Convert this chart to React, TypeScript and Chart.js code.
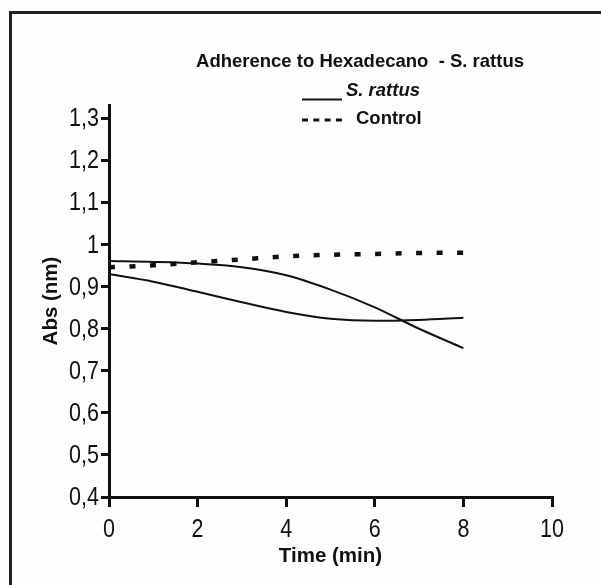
import React, { useEffect, useRef } from "react";
import { Chart, registerables } from "chart.js";

Chart.register(...registerables);

// ---- data ----
const timeMin = [0, 1, 2, 3, 4, 5, 6, 7, 8];
const strainUpper = [0.961, 0.959, 0.955, 0.946, 0.927, 0.893, 0.851, 0.8, 0.754];
const strainLower = [0.93, 0.912, 0.888, 0.863, 0.84, 0.824, 0.819, 0.821, 0.826];
const control = [0.946, 0.951, 0.958, 0.965, 0.972, 0.976, 0.978, 0.98, 0.981];

const chartTitle = "Adherence to Hexadecano  - S. rattus";
const legendLabels = ["S. rattus", "Control"];
const xAxisTitle = "Time (min)";
const yAxisTitle = "Abs (nm)";
const xRange = [0, 10];
const yRange = [0.4, 1.332];
const xStep = 2;
const yStep = 0.1;

const FONT = '"Liberation Sans", Arial, sans-serif';
const INK = "#111";
const TICK_FONT_SIZE = 25;
const TICK_SQUEEZE = 0.86;

const toPoints = (ys: number[]) => timeMin.map((t, i) => ({ x: t, y: ys[i] }));
const fmtTick = (v: number) => String(Math.round(Number(v) * 10) / 10).replace(".", ",");

const headerPlugin = {
  id: "headerLegend",
  afterDraw(chart: any) {
    const ctx = chart.ctx as CanvasRenderingContext2D;
    ctx.save();
    ctx.fillStyle = INK;
    ctx.strokeStyle = INK;

    // tick labels (narrow face emulated), positioned by the chart's scales
    ctx.font = `${TICK_FONT_SIZE}px ${FONT}`;
    ctx.textBaseline = "middle";
    const ys = chart.scales.y;
    const yTl = ys.options.grid.tickLength;
    ctx.textAlign = "right";
    ys.ticks.forEach((t: any) => {
      const py = ys.getPixelForValue(t.value);
      ctx.save();
      ctx.translate(ys.right - yTl - 2, py + 1);
      ctx.scale(TICK_SQUEEZE, 1);
      ctx.fillText(t.label ?? fmtTick(t.value), 0, 0);
      ctx.restore();
    });
    const xs = chart.scales.x;
    const xTl = xs.options.grid.tickLength;
    ctx.textAlign = "center";
    xs.ticks.forEach((t: any) => {
      const px = xs.getPixelForValue(t.value);
      ctx.save();
      ctx.translate(px, xs.top + xTl + 23);
      ctx.scale(TICK_SQUEEZE, 1);
      ctx.fillText(String(t.label ?? t.value), 0, 0);
      ctx.restore();
    });

    // title
    ctx.textBaseline = "alphabetic";
    ctx.font = `bold 18.5px ${FONT}`;
    ctx.textAlign = "center";
    ctx.fillText(chartTitle, 360, 67);

    // legend row 1: solid
    ctx.lineWidth = 2;
    ctx.beginPath();
    ctx.moveTo(302, 99.5);
    ctx.lineTo(342, 99.5);
    ctx.stroke();
    ctx.textAlign = "left";
    ctx.font = `italic bold 18.5px ${FONT}`;
    ctx.fillText(legendLabels[0], 346, 95.5);

    // legend row 2: dashed
    ctx.lineWidth = 3;
    ctx.setLineDash([6, 5.3]);
    ctx.beginPath();
    ctx.moveTo(302, 120);
    ctx.lineTo(342, 120);
    ctx.stroke();
    ctx.setLineDash([]);
    ctx.font = `bold 18.5px ${FONT}`;
    ctx.fillText(legendLabels[1], 356, 123.5);
    ctx.restore();
  },
};

export default function App() {
  const canvasRef = useRef<HTMLCanvasElement | null>(null);

  useEffect(() => {
    if (!canvasRef.current) return;
    const chart = new Chart(canvasRef.current, {
      type: "line",
      data: {
        datasets: [
          {
            label: legendLabels[0],
            data: toPoints(strainUpper),
            borderColor: INK,
            borderWidth: 2,
            pointRadius: 0,
            cubicInterpolationMode: "monotone",
            fill: false,
          },
          {
            label: legendLabels[0],
            data: toPoints(strainLower),
            borderColor: INK,
            borderWidth: 2,
            pointRadius: 0,
            cubicInterpolationMode: "monotone",
            fill: false,
          },
          {
            label: legendLabels[1],
            data: toPoints(control),
            borderColor: INK,
            borderWidth: 4.5,
            borderDash: [6, 14.5],
            borderCapStyle: "butt",
            pointRadius: 0,
            cubicInterpolationMode: "monotone",
            fill: false,
          },
        ],
      },
      options: {
        responsive: false,
        animation: false,
        devicePixelRatio: 1,
        layout: { padding: { top: 105, right: 49, bottom: 0, left: 0 } },
        plugins: {
          legend: { display: false },
          title: { display: false },
          tooltip: { enabled: false },
        },
        scales: {
          x: {
            type: "linear",
            min: xRange[0],
            max: xRange[1],
            afterFit: (s: any) => {
              s.height = 88;
            },
            ticks: {
              display: false,
              stepSize: xStep,
              maxRotation: 0,
            },
            grid: {
              drawOnChartArea: false,
              drawTicks: true,
              tickLength: 10,
              color: INK,
              lineWidth: 3,
            },
            border: { display: true, color: INK, width: 3 },
            title: {
              display: true,
              text: xAxisTitle,
              color: INK,
              font: { family: FONT, size: 20.5, weight: "bold" },
              padding: { top: 0, bottom: 16 },
            },
          },
          y: {
            type: "linear",
            min: yRange[0],
            max: yRange[1],
            afterFit: (s: any) => {
              s.width = 109;
            },
            ticks: {
              display: false,
              stepSize: yStep,
              includeBounds: false,
              callback: (v: any) => fmtTick(v),
            },
            grid: {
              drawOnChartArea: false,
              drawTicks: true,
              tickLength: 8,
              color: INK,
              lineWidth: 3,
            },
            border: { display: true, color: INK, width: 3 },
            title: {
              display: true,
              text: yAxisTitle,
              color: INK,
              font: { family: FONT, size: 20.5, weight: "bold" },
              padding: { top: 39, bottom: 0 },
            },
          },
        },
      },
      plugins: [headerPlugin],
    } as any);
    return () => chart.destroy();
  }, []);

  return (
    <div style={{ position: "relative", width: 601, height: 585, overflow: "hidden", background: "#fdfdfd" }}>
      <style>{`body{margin:0;overflow:hidden;}`}</style>
      <div
        style={{
          position: "absolute",
          left: 9,
          top: 11,
          width: 700,
          height: 700,
          borderTop: "3px solid #222",
          borderLeft: "3px solid #222",
        }}
      />
      <canvas
        ref={canvasRef}
        width={601}
        height={585}
        style={{ position: "absolute", left: 0, top: 0, display: "block" }}
      />
    </div>
  );
}
